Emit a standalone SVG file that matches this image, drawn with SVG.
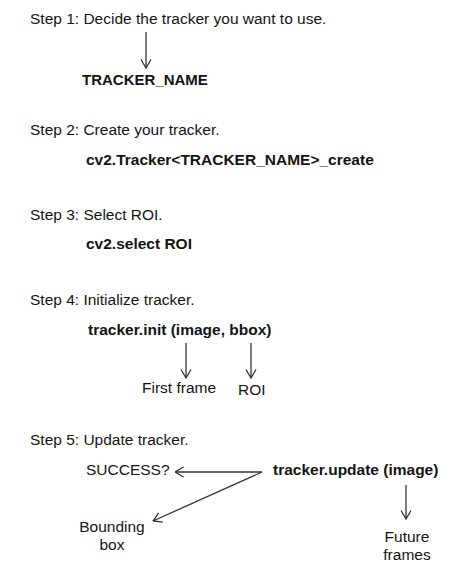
<svg xmlns="http://www.w3.org/2000/svg" width="462" height="588" viewBox="0 0 462 588">
<style>
text{font-family:"Liberation Sans",Arial,sans-serif;fill:#141414;font-size:15.5px}
.b{font-weight:bold}
.c{fill:none;stroke:#333;stroke-width:1.3}
</style>
<defs>
<marker id="ah" viewBox="0 0 10 12" refX="9.5" refY="6" markerWidth="10" markerHeight="12" markerUnits="userSpaceOnUse" orient="auto">
<path d="M1,1 L9.5,6 L1,11" fill="none" stroke="#333" stroke-width="1.3"/>
</marker>
</defs>
<rect width="462" height="588" fill="#fff"/>
<g id="step1"><text x="30" y="24">Step 1: Decide the tracker you want to use.</text></g>
<g id="tracker_name"><text class="b" x="82" y="85" style="font-size:15px">TRACKER_NAME</text></g>
<g id="step2"><text x="30" y="135">Step 2: Create your tracker.</text></g>
<g id="create"><text class="b" x="86" y="165">cv2.Tracker&lt;TRACKER_NAME&gt;_create</text></g>
<g id="step3"><text x="30" y="220">Step 3: Select ROI.</text></g>
<g id="select"><text class="b" x="86" y="249">cv2.select ROI</text></g>
<g id="step4"><text x="30" y="305">Step 4: Initialize tracker.</text></g>
<g id="init"><text class="b" x="88" y="335">tracker.init (image, bbox)</text></g>
<g id="first_frame"><text x="142" y="393">First frame</text></g>
<g id="roi"><text x="238" y="395">ROI</text></g>
<g id="step5"><text x="30" y="445">Step 5: Update tracker.</text></g>
<g id="success"><text x="86" y="475">SUCCESS?</text></g>
<g id="update"><text class="b" x="273" y="475">tracker.update (image)</text></g>
<g id="bounding_box"><text x="112" y="532" text-anchor="middle">Bounding</text><text x="112" y="550" text-anchor="middle">box</text></g>
<g id="future_frames"><text x="407" y="542" text-anchor="middle">Future</text><text x="407" y="560" text-anchor="middle">frames</text></g>
<g id="connectors">
<line class="c" x1="146" y1="32" x2="146" y2="68" marker-end="url(#ah)"/>
<line class="c" x1="186" y1="343" x2="186" y2="378" marker-end="url(#ah)"/>
<line class="c" x1="251" y1="343" x2="251" y2="378" marker-end="url(#ah)"/>
<line class="c" x1="262" y1="472" x2="175" y2="472" marker-end="url(#ah)"/>
<line class="c" x1="262" y1="472" x2="153" y2="521" marker-end="url(#ah)"/>
<line class="c" x1="406" y1="485" x2="406" y2="519" marker-end="url(#ah)"/>
</g>
</svg>
